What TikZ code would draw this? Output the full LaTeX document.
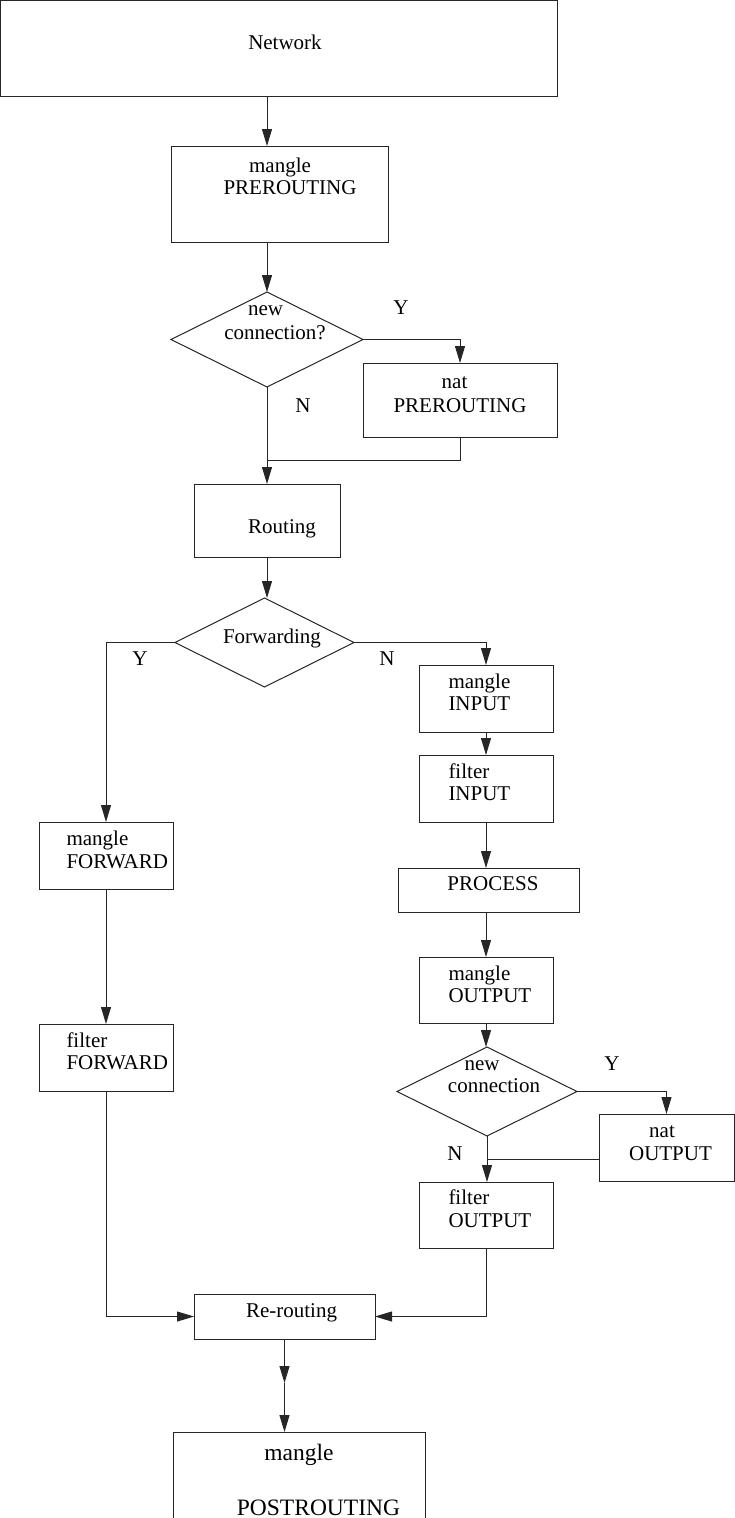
\documentclass[tikz,border=0pt]{standalone}
\usepackage{fontspec}
\setmainfont{Liberation Serif}
\usetikzlibrary{arrows.meta,shapes.geometric}
\begin{document}
\begin{tikzpicture}[x=1pt,y=-1pt,
  line width=1pt,
  box/.style={draw=black!85, rectangle, inner sep=0pt, outer sep=0pt},
  decision/.style={draw=black!85, diamond, inner sep=0pt, outer sep=0pt},
  conn/.style={draw=black!85},
  flow/.style={conn, -{Triangle[length=17pt,width=10pt]}},
  txt/.style={inner sep=0pt, anchor=base, font=\fontsize{21}{24}\selectfont},
  txtw/.style={inner sep=0pt, anchor=base west, font=\fontsize{21}{24}\selectfont},
  bigtxt/.style={inner sep=0pt, anchor=base, font=\fontsize{23.5}{27}\selectfont}
]
\useasboundingbox (0,0) rectangle (735,1518);
\clip (0,0) rectangle (735,1518);

% boxes
\node[box, minimum width=556.5pt, minimum height=95.5pt] (net)     at (278.75,48.25) {};
\node[box, minimum width=217pt, minimum height=96pt]     (mpre)    at (279.5,194) {};
\node[decision, minimum width=192pt, minimum height=95pt] (newc)   at (267,339.5) {};
\node[box, minimum width=194pt, minimum height=74pt]     (npre)    at (460,400) {};
\node[box, minimum width=146pt, minimum height=73pt]     (route)   at (267,520.5) {};
\node[decision, minimum width=179pt, minimum height=89pt] (fwd)    at (264.5,642.5) {};
\node[box, minimum width=134pt, minimum height=67pt]     (minput)  at (486,698.5) {};
\node[box, minimum width=134pt, minimum height=67pt]     (finput)  at (486,788.5) {};
\node[box, minimum width=181pt, minimum height=44pt]     (proc)    at (488.5,890) {};
\node[box, minimum width=134pt, minimum height=66pt]     (moutput) at (486,990) {};
\node[decision, minimum width=180pt, minimum height=89pt] (newo)   at (487,1091.5) {};
\node[box, minimum width=135pt, minimum height=67pt]     (noutput) at (666.5,1147.5) {};
\node[box, minimum width=134pt, minimum height=66pt]     (foutput) at (486,1215) {};
\node[box, minimum width=134pt, minimum height=67pt]     (mfwd)    at (106,855.5) {};
\node[box, minimum width=134pt, minimum height=67pt]     (ffwd)    at (106,1057.5) {};
\node[box, minimum width=181pt, minimum height=45pt]     (reroute) at (284.5,1316.5) {};
\node[box, minimum width=252pt, minimum height=128pt]    (mpost)   at (299,1496) {};

% helper points on the connectors
\coordinate (col1) at (267,0);
\coordinate (j1) at (267,460);
\coordinate (j2) at (487,1159);
\coordinate (mid) at (284.5,1383);

% texts
\node[txt] (tnet) at (285,49) {Network};
\node[txt] (tmpre1) at (280,172) {mangle};
\node[txt] (tmpre2) at (290,194) {PREROUTING};
\node[txt] (tnewc1) at (265.5,315) {new};
\node[txt] (tnewc2) at (275,339) {connection?};
\node[txt] (ty1) at (401,314) {Y};
\node[txt] (tn1) at (303,412) {N};
\node[txt] (tnpre1) at (454.5,388) {nat};
\node[txt] (tnpre2) at (460,412) {PREROUTING};
\node[txt] (troute) at (282,533) {Routing};
\node[txt] (tfwd) at (272,643) {Forwarding};
\node[txt] (ty2) at (140,665) {Y};
\node[txt] (tn2) at (387,665) {N};
\node[txtw] (tmin1) at (448,688) {mangle};
\node[txtw] (tmin2) at (448,710) {INPUT};
\node[txtw] (tfin1) at (448,778) {filter};
\node[txtw] (tfin2) at (448,800) {INPUT};
\node[txt] (tproc) at (493,890) {PROCESS};
\node[txtw] (tmout1) at (448,980) {mangle};
\node[txtw] (tmout2) at (448,1002) {OUTPUT};
\node[txt] (tnewo1) at (482,1070) {new};
\node[txt] (tnewo2) at (494,1092) {connection};
\node[txt] (ty3) at (612,1070) {Y};
\node[txt] (tn3) at (455,1160) {N};
\node[txt] (tnout1) at (662,1137) {nat};
\node[txt] (tnout2) at (670.5,1160) {OUTPUT};
\node[txtw] (tfout1) at (448,1204) {filter};
\node[txtw] (tfout2) at (448,1227) {OUTPUT};
\node[txtw] (tmfwd1) at (66,845) {mangle};
\node[txtw] (tmfwd2) at (66,868) {FORWARD};
\node[txtw] (tffwd1) at (66,1047) {filter};
\node[txtw] (tffwd2) at (66,1069) {FORWARD};
\node[txt] (trer) at (291.5,1317) {Re-routing};
\node[bigtxt] (tmpost1) at (299,1460) {mangle};
\node[bigtxt] (tmpost2) at (318.5,1515) {POSTROUTING};

% connectors
\draw[flow] (col1 |- net.south) -- (col1 |- mpre.north);
\draw[flow] (newc.north |- mpre.south) -- (newc.north);
\draw[flow] (newc.east) -| (npre.north);
\draw[conn] (npre.south) |- (j1);
\draw[flow] (newc.south) -- (route.north);
\draw[flow] (route.south) -- (route.south |- fwd.north);
\draw[flow] (fwd.west) -| (mfwd.north);
\draw[flow] (fwd.east) -| (minput.north);
\draw[flow] (minput.south) -- (finput.north);
\draw[flow] (finput.south) -- (finput.south |- proc.north);
\draw[flow] (moutput.north |- proc.south) -- (moutput.north);
\draw[flow] (moutput.south) -- (moutput.south |- newo.north);
\draw[flow] (newo.east) -| (noutput.north);
\draw[conn] (j2 -| noutput.west) -- (j2);
\draw[flow] (newo.south) -- (newo.south |- foutput.north);
\draw[flow] (mfwd.south) -- (ffwd.north);
\draw[flow] (ffwd.south) |- (reroute.west);
\draw[flow] (foutput.south) |- (reroute.east);
\draw[flow] (reroute.south) -- (mid);
\draw[flow] (mid) -- (mid |- mpost.north);
\end{tikzpicture}
\end{document}
